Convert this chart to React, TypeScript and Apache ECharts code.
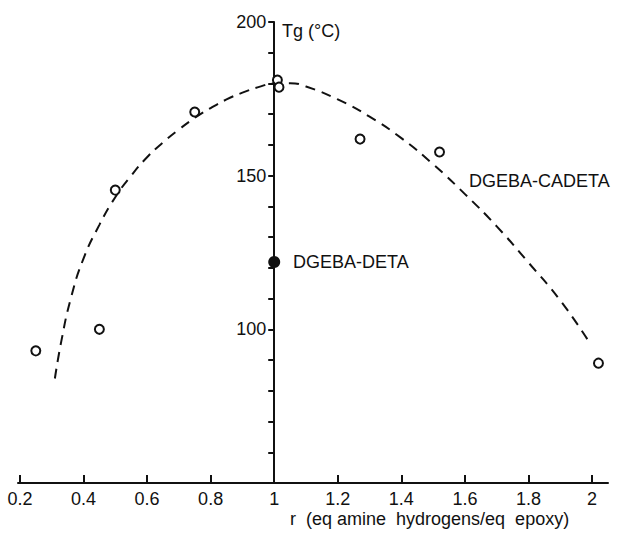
import React, { useEffect, useRef } from "react";
import * as echarts from "echarts";

// x axis tick labels (r values)
const xTickLabels = [0.2, 0.4, 0.6, 0.8, 1, 1.2, 1.4, 1.6, 1.8, 2];
// y axis labelled ticks
const yTickLabels = [100, 150, 200];

// DGEBA-CADETA measured points (open circles)
const cadetaR = [0.25, 0.45, 0.5, 0.75, 1.01, 1.015, 1.27, 1.52, 2.02];
const cadetaTg = [93, 100, 145.3, 170.7, 181.1, 178.8, 161.9, 157.7, 89];

// DGEBA-DETA point (filled circle)
const detaR = [1.0];
const detaTg = [121.9];

// dashed fitted curve
const curveR = [0.31, 0.33, 0.36, 0.4, 0.45, 0.5, 0.55, 0.6, 0.65, 0.7, 0.75, 0.8, 0.85, 0.9, 0.95, 1.0, 1.05, 1.1, 1.2, 1.3, 1.4, 1.5, 1.6, 1.7, 1.8, 1.9, 1.99];
const curveTg = [84, 96, 110, 123, 134, 143, 150, 156, 160.8, 165, 168.8, 172, 174.8, 177, 178.8, 180, 180.1, 179, 174.8, 169.2, 162.2, 153.7, 144, 133.5, 121.7, 109.4, 96];

// the vertical axis crosses the horizontal one at r = 1
const xMin = 0.194;
const xMax = 2.05;
const yMin = 50;
const yMax = 200;
const yCross = 1;

const GRID = { left: 18, right: 10, top: 22, bottom: 53 };
const W = 618;
const H = 536;

const FONT = "Liberation Sans";
const INK = "#111111";

export default function App() {
  const ref = useRef<HTMLDivElement>(null);
  useEffect(() => {
    if (!ref.current) return;
    const chart = echarts.init(ref.current, undefined, { renderer: "svg" });
    const gridW = W - GRID.left - GRID.right;
    const crossLeft = GRID.left + ((yCross - xMin) / (xMax - xMin)) * gridW;
    chart.setOption({
      animation: false,
      grid: [
        { ...GRID },
        { left: crossLeft, width: 1, top: GRID.top, bottom: GRID.bottom },
      ],
      xAxis: [
        {
          type: "value",
          gridIndex: 0,
          min: xMin,
          max: xMax,
          axisLine: { show: true, onZero: false, lineStyle: { color: INK, width: 2 } },
          axisTick: { show: true, inside: true, length: 8, customValues: xTickLabels, lineStyle: { color: INK, width: 2 } },
          axisLabel: {
            customValues: xTickLabels,
            margin: 7,
            color: INK,
            fontFamily: FONT,
            fontSize: 18,
            formatter: (v: number) => String(Number(v.toFixed(1))),
          },
          splitLine: { show: false },
        },
        { type: "value", gridIndex: 1, min: 0, max: 1, show: false },
      ],
      yAxis: [
        { type: "value", gridIndex: 0, min: yMin, max: yMax, show: false },
        {
          type: "value",
          gridIndex: 1,
          min: yMin,
          max: yMax,
          interval: 10,
          axisLine: { show: true, onZero: false, lineStyle: { color: INK, width: 2 } },
          axisTick: { show: true, length: 6, lineStyle: { color: INK, width: 2 } },
          axisLabel: {
            margin: 8,
            color: INK,
            fontFamily: FONT,
            fontSize: 18,
            formatter: (v: number) => (yTickLabels.includes(Math.round(v)) ? String(Math.round(v)) : ""),
          },
          splitLine: { show: false },
        },
      ],
      series: [
        {
          type: "line",
          xAxisIndex: 0,
          yAxisIndex: 0,
          data: curveR.map((r, i) => [r, curveTg[i]]),
          smooth: true,
          symbol: "none",
          lineStyle: { color: INK, width: 2, type: [10, 7] },
          z: 1,
        },
        {
          type: "scatter",
          xAxisIndex: 0,
          yAxisIndex: 0,
          data: cadetaR.map((r, i) => [r, cadetaTg[i]]),
          symbol: "circle",
          symbolSize: 9,
          itemStyle: { color: "#fff", borderColor: INK, borderWidth: 2, opacity: 1 },
          z: 3,
        },
        {
          type: "scatter",
          xAxisIndex: 0,
          yAxisIndex: 0,
          data: detaR.map((r, i) => [r, detaTg[i]]),
          symbol: "circle",
          symbolSize: 12,
          itemStyle: { color: INK, opacity: 1 },
          z: 4,
        },
      ],
      graphic: [
        {
          type: "text",
          left: 282,
          top: 22,
          style: { text: "Tg (°C)", fill: INK, font: `18px "${FONT}"` },
        },
        {
          type: "text",
          left: 293,
          top: 253,
          style: { text: "DGEBA-DETA", fill: INK, font: `18px "${FONT}"` },
        },
        {
          type: "text",
          left: 469,
          top: 172,
          style: { text: "DGEBA-CADETA", fill: INK, font: `18px "${FONT}"` },
        },
        {
          type: "text",
          left: 290,
          top: 510,
          style: { text: "r  (eq amine  hydrogens/eq  epoxy)", fill: INK, font: `18px "${FONT}"` },
        },
      ],
    });
    return () => chart.dispose();
  }, []);
  return <div ref={ref} style={{ position: "fixed", left: 0, top: 0, width: W, height: H, background: "#fff" }} />;
}
